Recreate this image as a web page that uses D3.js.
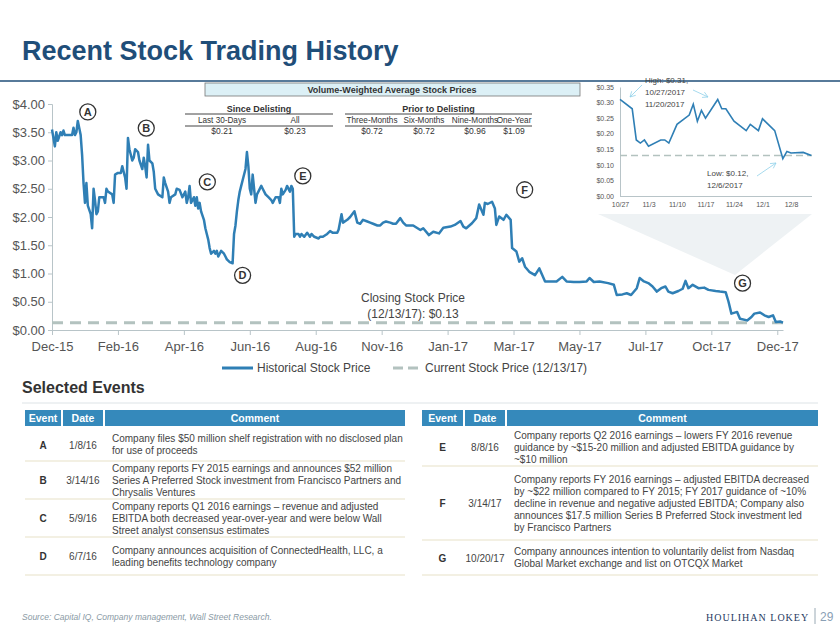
<!DOCTYPE html>
<html><head><meta charset="utf-8">
<script src="https://cdn.jsdelivr.net/npm/d3@7"></script>
<style>body{margin:0;background:#fff}svg{font-family:Arial,"Liberation Sans",sans-serif}</style>
</head><body><svg id="c" width="840" height="630"></svg>
<script>
// ---- data ----
const tickLabels=["Dec-15","Feb-16","Apr-16","Jun-16","Aug-16","Nov-16","Jan-17","Mar-17","May-17","Jul-17","Oct-17","Dec-17"];
const tickDays=[0,46,92,138,184,230,276,322,368,414,460,506];
const priceDays=[0,1,2,3,4,6,7,8,9,11,14,15,16,17,18,20,21,22,23,24,25,27,28,29,30,31,32,33,36,37,38,39,42,43,44,46,48,49,51,52,53,54,56,57,58,60,61,63,64,65,66,67,68,70,71,72,74,77,78,79,81,82,83,86,87,89,91,93,94,95,96,97,99,100,101,102,103,104,106,107,108,109,110,111,113,114,115,116,117,118,120,121,122,124,126,127,128,129,130,131,132,133,135,136,137,138,139,140,141,142,143,144,146,147,149,151,153,154,156,158,159,160,161,163,164,166,167,168,169,170,172,173,174,176,178,180,181,183,186,187,189,192,194,196,199,200,202,203,206,208,211,213,215,217,220,222,224,227,229,231,233,236,238,240,243,245,247,252,257,259,263,266,270,273,278,281,285,287,289,293,296,298,301,302,304,307,309,310,312,315,317,320,321,324,326,328,330,333,337,340,344,347,352,356,359,364,368,373,375,378,382,388,392,394,398,401,404,408,410,413,416,419,422,425,428,430,433,437,440,442,444,447,451,455,458,463,466,470,472,474,478,480,485,488,490,494,497,500,503,505,508,510];
const prices=[3.55,3.40,3.25,3.50,3.35,3.50,3.45,3.53,3.45,3.45,3.45,3.58,3.45,3.50,3.70,3.45,3.10,2.60,2.25,2.60,2.20,2.05,1.80,2.50,2.30,2.05,2.10,2.35,2.35,2.25,2.50,2.45,2.40,2.25,2.75,2.78,2.78,2.90,2.70,2.50,3.40,3.20,3.00,3.05,3.20,3.15,3.00,2.85,3.05,2.90,2.70,3.28,3.00,2.95,2.80,2.50,2.40,2.35,2.70,2.60,2.45,2.25,2.35,2.40,2.50,2.48,2.35,2.45,2.25,2.35,2.55,2.25,2.35,2.20,2.35,2.15,2.25,2.10,1.95,1.80,1.70,1.60,1.45,1.35,1.40,1.35,1.40,1.30,1.35,1.40,1.35,1.30,1.25,1.20,1.18,1.70,1.85,2.10,2.30,2.45,2.55,2.65,2.85,3.15,2.90,2.50,2.40,2.75,2.50,2.25,2.40,2.45,2.55,2.50,2.40,2.35,2.30,2.25,2.35,2.35,2.25,2.50,2.40,2.48,2.55,2.45,2.55,2.50,1.65,1.70,1.70,1.65,1.70,1.65,1.72,1.65,1.70,1.65,1.62,1.65,1.65,1.70,1.75,1.72,1.72,1.78,2.05,1.90,1.95,2.00,2.10,1.90,1.88,1.95,1.92,1.90,1.88,1.85,1.85,1.90,1.92,1.90,1.88,1.88,1.98,1.90,1.85,1.85,1.77,1.80,1.68,1.74,1.71,1.81,1.83,1.86,1.93,1.83,1.80,1.89,1.98,2.22,2.04,2.25,2.23,2.27,2.15,1.86,2.01,1.95,2.04,1.95,1.45,1.39,1.21,1.27,1.12,1.03,0.97,1.09,0.86,0.86,0.86,0.94,0.86,0.85,0.85,0.86,0.92,0.85,0.86,0.83,0.80,0.62,0.63,0.65,0.62,0.74,0.92,0.86,0.83,0.77,0.68,0.74,0.77,0.68,0.65,0.69,0.73,0.87,0.74,0.80,0.74,0.75,0.71,0.69,0.68,0.67,0.50,0.29,0.32,0.20,0.17,0.23,0.29,0.31,0.26,0.23,0.26,0.14,0.15,0.13];
const currentPrice=0.13;
const yTicks=[0,0.5,1,1.5,2,2.5,3,3.5,4];
const events=[["A",18,3.70],["B",56,3.45],["C",100,2.55],["D",126,1.18],["E",168,2.55],["F",320,2.27],["G",472,0.67]];
const insetDates=["2017-10-27","2017-10-30","2017-10-31","2017-11-01","2017-11-02","2017-11-03","2017-11-06","2017-11-07","2017-11-08","2017-11-10","2017-11-13","2017-11-14","2017-11-15","2017-11-16","2017-11-17","2017-11-20","2017-11-21","2017-11-22","2017-11-24","2017-11-27","2017-11-28","2017-11-30","2017-12-01","2017-12-04","2017-12-06","2017-12-07","2017-12-08","2017-12-11","2017-12-13"];
const insetPrices=[0.31,0.28,0.18,0.17,0.18,0.16,0.18,0.18,0.17,0.23,0.26,0.295,0.24,0.275,0.25,0.31,0.28,0.28,0.24,0.21,0.23,0.21,0.248,0.21,0.12,0.143,0.138,0.14,0.13];
const insetTickLabels=["10/27","11/3","11/10","11/17","11/24","12/1","12/8"];
const insetYTicks=[0,0.05,0.10,0.15,0.20,0.25,0.30,0.35];
const vwapHeads=["Last 30-Days","All","Three-Months","Six-Months","Nine-Months","One-Year"];
const vwapVals=["$0.21","$0.23","$0.72","$0.72","$0.96","$1.09"];
const leftRows=[["A","1/8/16",["Company files $50 million shelf registration with no disclosed plan","for use of proceeds"]],
["B","3/14/16",["Company reports FY 2015 earnings and announces $52 million","Series A Preferred Stock investment from Francisco Partners and","Chrysalis Ventures"]],
["C","5/9/16",["Company reports Q1 2016 earnings – revenue and adjusted","EBITDA both decreased year-over-year and were below Wall","Street analyst consensus estimates"]],
["D","6/7/16",["Company announces acquisition of ConnectedHealth, LLC, a","leading benefits technology company"]]];
const rightRows=[["E","8/8/16",["Company reports Q2 2016 earnings – lowers FY 2016 revenue","guidance by ~$15-20 million and adjusted EBITDA guidance by","~$10 million"]],
["F","3/14/17",["Company reports FY 2016 earnings – adjusted EBITDA decreased","by ~$22 million compared to FY 2015; FY 2017 guidance of ~10%","decline in revenue and negative adjusted EBITDA; Company also","announces $17.5 million Series B Preferred Stock investment led","by Francisco Partners"]],
["G","10/20/17",["Company announces intention to voluntarily delist from Nasdaq","Global Market exchange and list on OTCQX Market"]]];

// ---- drawing ----
const svg=d3.select("#c");
const blue="#2f7fb5", grey="#b3c2bf", txt="#444";
svg.append("text").attr("x",22).attr("y",60).attr("font-size",27).attr("font-weight","bold").attr("fill","#1f4e79").text("Recent Stock Trading History");
svg.append("line").attr("x1",0).attr("x2",840).attr("y1",81).attr("y2",81).attr("stroke","#1f4e79").attr("stroke-width",1.5);

const x=d3.scaleLinear().domain([0,510]).range([52,783]);
const y=d3.scaleLinear().domain([0,4]).range([330,104]);

svg.append("path").attr("d",`M598,214 L812,214 L735,275 Z`).attr("fill","#eef2f4");

const ya=svg.append("g").attr("transform","translate(52,0)").call(d3.axisLeft(y).tickValues(yTicks).tickFormat(d=>"$"+d.toFixed(2)).tickSize(4));
ya.selectAll("text").attr("font-size",13).attr("fill","#555").attr("font-family","Arial,Liberation Sans");
ya.selectAll("line,path").attr("stroke","#b8c4c8");
const xa=svg.append("g").attr("transform","translate(0,330)").call(d3.axisBottom(x).tickValues(tickDays).tickFormat((d,i)=>tickLabels[i]).tickSize(5).tickSizeOuter(0));
xa.selectAll("text").attr("font-size",13).attr("fill","#555").attr("dy","1.0em").attr("font-family","Arial,Liberation Sans");
xa.selectAll("line,path").attr("stroke","#b8c4c8");

svg.append("line").attr("x1",x(0)).attr("x2",x(510)).attr("y1",y(currentPrice)).attr("y2",y(currentPrice)).attr("stroke",grey).attr("stroke-width",3).attr("stroke-dasharray","11,7");
const line=d3.line().x((d,i)=>x(priceDays[i])).y(d=>y(d));
svg.append("path").datum(prices).attr("d",line).attr("fill","none").attr("stroke",blue).attr("stroke-width",2.5).attr("stroke-linejoin","round");

const offs={A:[10,-9],B:[14,-7],C:[12,-4],D:[10,12],E:[10,-10],F:[14,-12],G:[14,-9]};
events.forEach(e=>{const cx=x(e[1])+offs[e[0]][0], cy=y(e[2])+offs[e[0]][1];
 svg.append("circle").attr("cx",cx).attr("cy",cy).attr("r",8).attr("fill","#fff").attr("stroke","#333").attr("stroke-width",1.3);
 svg.append("text").attr("x",cx).attr("y",cy+4).attr("text-anchor","middle").attr("font-size",11).attr("font-weight","bold").attr("fill","#333").text(e[0]);});

svg.append("text").attr("x",413).attr("y",302).attr("text-anchor","middle").attr("font-size",12).attr("fill",txt).text("Closing Stock Price");
svg.append("text").attr("x",413).attr("y",318).attr("text-anchor","middle").attr("font-size",12).attr("fill",txt).text("(12/13/17): $0.13");

svg.append("rect").attr("x",205).attr("y",83).attr("width",375).attr("height",13).attr("fill","#dcf0f6").attr("stroke","#777").attr("stroke-width",0.8);
svg.append("text").attr("x",392).attr("y",93).attr("text-anchor","middle").attr("font-size",9).attr("font-weight","bold").attr("fill","#333").text("Volume-Weighted Average Stock Prices");
[[185,333,"Since Delisting"],[345,532,"Prior to Delisting"]].forEach(g=>{
 svg.append("text").attr("x",(g[0]+g[1])/2).attr("y",112).attr("text-anchor","middle").attr("font-size",9).attr("font-weight","bold").attr("fill","#333").text(g[2]);
 [114,126].forEach(yy=>svg.append("line").attr("x1",g[0]).attr("x2",g[1]).attr("y1",yy).attr("y2",yy).attr("stroke","#444").attr("stroke-width",1));});
const colX=[222,295,372,424,475,514];
vwapHeads.forEach((h,i)=>svg.append("text").attr("x",colX[i]).attr("y",123).attr("text-anchor","middle").attr("font-size",8.2).attr("fill","#333").text(h));
vwapVals.forEach((h,i)=>svg.append("text").attr("x",colX[i]).attr("y",134).attr("text-anchor","middle").attr("font-size",8.5).attr("fill","#333").text(h));

const ix=d3.scaleTime().domain([new Date(2017,9,27),new Date(2017,11,8)]).range([620,791]);
const iy=d3.scaleLinear().domain([0,0.35]).range([196,87]);
const pd=d3.timeParse("%Y-%m-%d");
const iya=svg.append("g").attr("transform","translate(620,0)").call(d3.axisLeft(iy).tickValues(insetYTicks).tickFormat(d=>"$"+d.toFixed(2)).tickSize(0).tickPadding(6));
iya.selectAll("text").attr("font-size",7).attr("fill","#555");
iya.select("path").attr("stroke","#b8c4c8");
const itv=insetTickLabels.map((d,i)=>new Date(2017,9,27+7*i));
const ixa=svg.append("g").attr("transform","translate(0,196)").call(d3.axisBottom(ix).tickValues(itv).tickFormat((d,i)=>insetTickLabels[i]).tickSize(0).tickPadding(6));
ixa.selectAll("text").attr("font-size",7).attr("fill","#555");
ixa.select("path").attr("stroke","#b8c4c8").attr("d","M620,0.5H812");
svg.append("line").attr("x1",620).attr("x2",812).attr("y1",iy(currentPrice)).attr("y2",iy(currentPrice)).attr("stroke",grey).attr("stroke-width",1.5).attr("stroke-dasharray","7,4");
svg.append("path").datum(insetPrices).attr("d",d3.line().x((d,i)=>ix(pd(insetDates[i]))).y(d=>iy(d))).attr("fill","none").attr("stroke",blue).attr("stroke-width",1.6);
[["High: $0.31,",645,83],["10/27/2017",645,95],["11/20/2017",645,107],["Low: $0.12,",707,176],["12/6/2017",707,188]].forEach(t=>
 svg.append("text").attr("x",t[1]).attr("y",t[2]).attr("font-size",8).attr("fill","#444").text(t[0]));
const acol="#8fd0ea";
[[642,85,630,97],[693,90,708,97],[757,176,776,163]].forEach(a=>{
 svg.append("line").attr("x1",a[0]).attr("y1",a[1]).attr("x2",a[2]).attr("y2",a[3]).attr("stroke",acol).attr("stroke-width",0.8);
 const ang=Math.atan2(a[3]-a[1],a[2]-a[0]);
 [0.5,-0.5].forEach(s=>svg.append("line").attr("x1",a[2]).attr("y1",a[3]).attr("x2",a[2]-6*Math.cos(ang+s)).attr("y2",a[3]-6*Math.sin(ang+s)).attr("stroke",acol).attr("stroke-width",0.8));});

svg.append("line").attr("x1",222).attr("x2",253).attr("y1",368).attr("y2",368).attr("stroke",blue).attr("stroke-width",3);
svg.append("text").attr("x",257).attr("y",372).attr("font-size",12).attr("fill",txt).text("Historical Stock Price");
svg.append("line").attr("x1",393).attr("x2",421).attr("y1",368).attr("y2",368).attr("stroke",grey).attr("stroke-width",3).attr("stroke-dasharray","10,5");
svg.append("text").attr("x",425).attr("y",372).attr("font-size",12).attr("fill",txt).text("Current Stock Price (12/13/17)");

svg.append("text").attr("x",22).attr("y",393).attr("font-size",16).attr("font-weight","bold").attr("fill","#333").text("Selected Events");
svg.append("line").attr("x1",22).attr("x2",818).attr("y1",403).attr("y2",403).attr("stroke","#dde3e6").attr("stroke-width",1);

function table(x0,cols,rows,rowTops,rowBots){
 const hb="#3589bb";
 const heads=["Event","Date","Comment"];
 cols.forEach((c,i)=>{svg.append("rect").attr("x",c[0]).attr("y",410).attr("width",c[1]-c[0]).attr("height",16).attr("fill",hb);
  svg.append("text").attr("x",(c[0]+c[1])/2).attr("y",422).attr("text-anchor","middle").attr("font-size",10.5).attr("font-weight","bold").attr("fill","#fff").text(heads[i]);});
 rows.forEach((r,k)=>{const t=rowTops[k], b=rowBots[k], mid=(t+b)/2;
  svg.append("text").attr("x",(cols[0][0]+cols[0][1])/2).attr("y",mid+4).attr("text-anchor","middle").attr("font-size",10).attr("font-weight","bold").attr("fill","#333").text(r[0]);
  svg.append("text").attr("x",(cols[1][0]+cols[1][1])/2).attr("y",mid+4).attr("text-anchor","middle").attr("font-size",10).attr("fill","#444").text(r[1]);
  const n=r[2].length, top=mid-(n-1)*6+3.5;
  r[2].forEach((l,j)=>svg.append("text").attr("x",cols[2][0]+7).attr("y",top+j*12).attr("font-size",10).attr("fill","#444").text(l));
  svg.append("line").attr("x1",cols[0][0]).attr("x2",cols[2][1]).attr("y1",b).attr("y2",b).attr("stroke","#e8e2c8").attr("stroke-width",1.2);});
}
table(25,[[25,61],[63,103],[105,405]],leftRows,[428,461,499,537],[461,499,537,575]);
table(422,[[422,463],[465,505],[507,818]],rightRows,[428,466,540],[466,540,575]);

svg.append("text").attr("x",22).attr("y",620).attr("font-size",8.5).attr("font-style","italic").attr("fill","#8a9aa5").text("Source: Capital IQ, Company management, Wall Street Research.");
svg.append("text").attr("x",706).attr("y",621).attr("font-size",10).attr("font-family","Liberation Serif,DejaVu Serif,serif").attr("letter-spacing",1).attr("fill","#1f3a5f").text("HOULIHAN LOKEY");
svg.append("line").attr("x1",815).attr("x2",815).attr("y1",608).attr("y2",624).attr("stroke","#9aaab5");
svg.append("text").attr("x",820).attr("y",621).attr("font-size",12).attr("fill","#8aa0b5").text("29");
</script></body></html>
